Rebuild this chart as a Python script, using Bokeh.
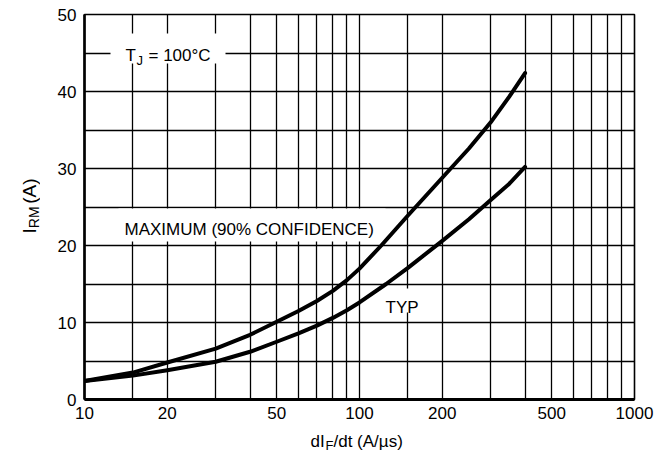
import math
from bokeh.plotting import figure
from bokeh.models import FixedTicker, Label, BoxAnnotation, Range1d
from bokeh.layouts import row, column
from bokeh.core.properties import value
from bokeh.embed import file_html
from bokeh.resources import INLINE

# ---- data ----
didt_max = [10, 15, 20, 30, 40, 50, 60, 70, 80, 90, 100, 120, 150, 200, 250, 300, 350, 400]
irm_max = [2.4, 3.5, 4.8, 6.6, 8.4, 10.1, 11.5, 12.8, 14.1, 15.5, 17.0, 20.0, 23.9, 28.8, 32.6, 36.0, 39.3, 42.4]

didt_typ = [10, 15, 20, 30, 40, 50, 60, 70, 80, 90, 100, 125, 150, 200, 250, 300, 350, 400]
irm_typ = [2.4, 3.1, 3.8, 4.9, 6.2, 7.5, 8.6, 9.6, 10.6, 11.6, 12.6, 15.0, 17.1, 20.6, 23.4, 25.9, 28.0, 30.2]

x_tick_values = [10, 20, 50, 100, 200, 500, 1000]
x_tick_labels = ["10", "20", "50", "100", "200", "500", "1000"]
x_grid_values = [10, 15, 20, 30, 40, 50, 60, 70, 80, 90, 100, 150, 200,
                 300, 400, 500, 600, 700, 800, 900, 1000]
y_tick_values = [0, 10, 20, 30, 40, 50]
y_tick_labels = ["0", "10", "20", "30", "40", "50"]
y_grid_values = [0, 5, 10, 15, 20, 25, 30, 35, 40, 45, 50]

FONT = "Liberation Sans"

# page layout (pixels)
FL, FR, FT, FB = 84, 634, 14, 399       # plot frame edges on the page
YW = 40                                   # width of the y-title strip
PW, PH = 614, 427                         # main figure size
XH = 30                                   # height of the x-title strip
TOTAL_W = YW + PW

p = figure(width=PW, height=PH, x_axis_type="log",
           x_range=Range1d(10, 1000), y_range=Range1d(0, 50),
           output_backend="svg", toolbar_location=None,
           min_border_left=FL - YW, min_border_right=TOTAL_W - FR,
           min_border_top=FT, min_border_bottom=PH - FB)
p.background_fill_color = "white"
p.border_fill_color = "white"
p.outline_line_color = "black"
p.outline_line_width = 1.6


def px_to_x(px):
    return 10 ** (1 + 2 * (px - FL) / (FR - FL))


def py_to_y(py):
    return 50 * (FB - py) / (FB - FT)


# axes
p.xaxis.ticker = FixedTicker(ticks=x_tick_values)
p.xaxis.major_label_overrides = {v: s for v, s in zip(x_tick_values, x_tick_labels)}
p.yaxis.ticker = FixedTicker(ticks=y_tick_values)
p.yaxis.major_label_overrides = {v: s for v, s in zip(y_tick_values, y_tick_labels)}
for ax in (p.xaxis, p.yaxis):
    ax.major_tick_in = 0
    ax.major_tick_out = 0
    ax.minor_tick_in = 0
    ax.minor_tick_out = 0
    ax.minor_tick_line_color = None
    ax.major_tick_line_color = None
    ax.axis_line_color = "black"
    ax.major_label_text_font = FONT
    ax.major_label_text_font_size = "17px"
    ax.major_label_text_color = "black"
p.xaxis.major_label_standoff = 7
p.yaxis.major_label_standoff = 8
p.xaxis.axis_line_width = 3
p.yaxis.axis_line_width = 2.6

# grids
p.xgrid.ticker = FixedTicker(ticks=x_grid_values)
p.ygrid.ticker = FixedTicker(ticks=y_grid_values)
for g in (p.xgrid, p.ygrid):
    g.grid_line_color = "black"
    g.grid_line_width = 1.3
    g.grid_line_alpha = 1.0
    g.minor_grid_line_color = None

# white boxes behind the annotations (above grid, below curves)
for (l, r, t, b) in [(110, 225, 33, 63), (118, 385, 208, 241), (382, 420, 288, 312)]:
    p.add_layout(BoxAnnotation(left=px_to_x(l), right=px_to_x(r),
                               top=py_to_y(t), bottom=py_to_y(b),
                               fill_color="white", fill_alpha=1.0,
                               line_color=None, level="underlay"))

# curves
p.line(didt_max, irm_max, line_width=4, line_color="black", line_join="round", line_cap="round")
p.line(didt_typ, irm_typ, line_width=4, line_color="black", line_join="round", line_cap="round")


def lab(text, px, py, size):
    p.add_layout(Label(x=px_to_x(px), y=py_to_y(py), text=text,
                       text_font=FONT, text_font_size=f"{size}px",
                       text_color="black", text_align="left",
                       text_baseline="alphabetic"))


# T_J = 100°C
lab("T", 125, 55, 17)
lab("J", 136, 60, 13)
lab("= 100°C", 148, 55, 17)

lab("MAXIMUM (90% CONFIDENCE)", 124, 229, 17)
lab("TYP", 385, 307, 17)


def strip(w, h):
    f = figure(width=w, height=h, x_range=Range1d(0, w), y_range=Range1d(0, h),
               output_backend="svg", toolbar_location=None,
               x_axis_location=None, y_axis_location=None, min_border=0)
    f.grid.visible = False
    f.outline_line_color = None
    f.background_fill_color = "white"
    f.border_fill_color = "white"
    return f


# y-axis title strip: I_RM (A)  (text reads bottom to top)
yfig = strip(YW, PH)
for txt, px, py, size in [("I", 29, 243, 19), ("RM", 33, 237, 14), ("(A)", 29, 210, 19)]:
    yfig.text(x=[px], y=[PH - py], text=[txt], angle=math.pi / 2,
              text_font=value(FONT), text_font_size=value(f"{size}px"),
              text_color="black", text_align="left", text_baseline="alphabetic")

# x-axis title strip: dI_F/dt (A/µs)
xfig = strip(TOTAL_W, XH)
for txt, px, py, size in [("dI", 310, 441, 17), ("F", 325, 445, 13), ("/dt (A/µs)", 333, 441, 17)]:
    xfig.text(x=[px], y=[PH + XH - py], text=[txt],
              text_font=value(FONT), text_font_size=value(f"{size}px"),
              text_color="black", text_align="left", text_baseline="alphabetic")

layout = column(row(yfig, p, spacing=0), xfig, spacing=0)
open("out.html", "w").write(file_html(layout, INLINE))
